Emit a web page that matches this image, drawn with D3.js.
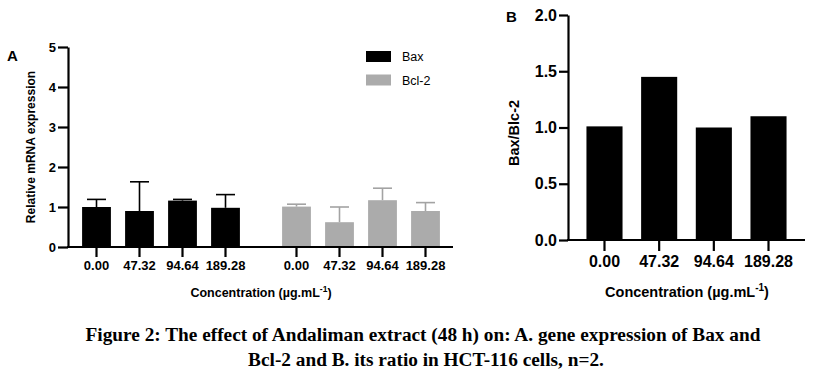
<!DOCTYPE html>
<html>
<head>
<meta charset="utf-8">
<script src="https://cdn.jsdelivr.net/npm/d3@7"></script>
<style>
  body { margin: 0; background: #fff; }
  svg { display: block; }
</style>
</head>
<body>
<svg id="chart" width="814" height="381"></svg>
<script>
// chart data
var concentrations = ["0.00", "47.32", "94.64", "189.28"];
var genes = ["Bax", "Bcl-2"];
var baxMean = [1.00, 0.90, 1.16, 0.98];
var baxSd = [0.19, 0.73, 0.03, 0.33];
var bcl2Mean = [1.01, 0.62, 1.17, 0.90];
var bcl2Sd = [0.06, 0.38, 0.30, 0.21];
var ratio = [1.01, 1.45, 1.00, 1.10];
var yTicksA = [0, 1, 2, 3, 4, 5];
var yTicksB = [0, 0.5, 1.0, 1.5, 2.0];

var geneColor = { "Bax": "#000000", "Bcl-2": "#ababab" };
var errColor = { "Bax": "#000000", "Bcl-2": "#a3a3a3" };
var sans = "'Liberation Sans', Arial, sans-serif";

var svg = d3.select("#chart");

function styleAxis(g, size) {
  g.attr("font-family", sans).attr("font-size", size).attr("font-weight", "bold");
  g.selectAll("line").attr("stroke", "#000").attr("stroke-width", 2.2);
  g.selectAll("path").attr("stroke", "#000").attr("stroke-width", 2.2);
  g.selectAll("text").attr("fill", "#000");
}

// ---------- panel A ----------
var yA = d3.scaleLinear().domain([0, 5]).range([247, 47]);
var xGroup = d3.scaleBand().domain(genes).range([75, 447]).paddingInner(0.14);
var xInner = d3.scaleBand().domain(concentrations).range([0, xGroup.bandwidth()])
  .paddingInner(0.33).paddingOuter(0.165);

var dataA = [];
concentrations.forEach(function(c, i) {
  dataA.push({ gene: "Bax", conc: c, mean: baxMean[i], sd: baxSd[i] });
  dataA.push({ gene: "Bcl-2", conc: c, mean: bcl2Mean[i], sd: bcl2Sd[i] });
});

var panelA = svg.append("g");

// error bars (behind bars)
var errA = panelA.selectAll(".err").data(dataA).enter().append("g")
  .attr("transform", function(d) {
    return "translate(" + (xGroup(d.gene) + xInner(d.conc) + xInner.bandwidth() / 2) + ",0)";
  });
errA.append("line")
  .attr("x1", 0).attr("x2", 0)
  .attr("y1", function(d) { return yA(d.mean); })
  .attr("y2", function(d) { return yA(d.mean + d.sd); })
  .attr("stroke", function(d) { return errColor[d.gene]; })
  .attr("stroke-width", 1.6);
errA.append("line")
  .attr("x1", -9.5).attr("x2", 9.5)
  .attr("y1", function(d) { return yA(d.mean + d.sd); })
  .attr("y2", function(d) { return yA(d.mean + d.sd); })
  .attr("stroke", function(d) { return errColor[d.gene]; })
  .attr("stroke-width", 1.6);

panelA.selectAll(".bar").data(dataA).enter().append("rect")
  .attr("x", function(d) { return xGroup(d.gene) + xInner(d.conc); })
  .attr("y", function(d) { return yA(d.mean); })
  .attr("width", xInner.bandwidth())
  .attr("height", function(d) { return yA(0) - yA(d.mean); })
  .attr("fill", function(d) { return geneColor[d.gene]; });

// axes
var yAxisA = panelA.append("g").attr("transform", "translate(68,0)")
  .call(d3.axisLeft(yA).tickValues(yTicksA).tickFormat(d3.format("d")).tickSize(10).tickPadding(2).tickSizeOuter(0));
styleAxis(yAxisA, 13);

panelA.append("line")
  .attr("x1", 67).attr("x2", 453)
  .attr("y1", yA(0)).attr("y2", yA(0))
  .attr("stroke", "#000").attr("stroke-width", 2.2);

genes.forEach(function(g) {
  var ax = panelA.append("g").attr("transform", "translate(" + xGroup(g) + "," + yA(0) + ")")
    .call(d3.axisBottom(xInner).tickSize(10).tickPadding(4));
  ax.select(".domain").remove();
  styleAxis(ax, 13);
});

panelA.append("text")
  .attr("transform", "translate(35,147) rotate(-90)")
  .attr("text-anchor", "middle")
  .attr("font-family", sans).attr("font-size", 12).attr("font-weight", "bold")
  .text("Relative mRNA expression");

var titleA = panelA.append("text")
  .attr("x", 261).attr("y", 297)
  .attr("text-anchor", "middle")
  .attr("font-family", sans).attr("font-size", 12.5).attr("font-weight", "bold");
titleA.append("tspan").text("Concentration (µg.mL");
titleA.append("tspan").attr("font-size", 8.5).attr("dy", -5).text("-1");
titleA.append("tspan").attr("dy", 5).text(")");

panelA.append("text")
  .attr("x", 7).attr("y", 61)
  .attr("font-family", sans).attr("font-size", 15).attr("font-weight", "bold")
  .text("A");

// legend
var legend = panelA.selectAll(".leg").data(genes).enter().append("g")
  .attr("transform", function(d, i) { return "translate(366," + (51 + i * 23.5) + ")"; });
legend.append("rect")
  .attr("width", 25).attr("height", 11)
  .attr("fill", function(d) { return geneColor[d]; });
legend.append("text")
  .attr("x", 36).attr("y", 10)
  .attr("font-family", sans).attr("font-size", 12.5)
  .text(function(d) { return d; });

// ---------- panel B ----------
var yB = d3.scaleLinear().domain([0, 2]).range([240, 15]);
var xB = d3.scaleBand().domain(concentrations).range([568, 805])
  .paddingInner(0.34).paddingOuter(0.3375);

var panelB = svg.append("g");

panelB.selectAll(".bar").data(ratio).enter().append("rect")
  .attr("x", function(d, i) { return xB(concentrations[i]); })
  .attr("y", function(d) { return yB(d); })
  .attr("width", xB.bandwidth())
  .attr("height", function(d) { return yB(0) - yB(d); })
  .attr("fill", "#000");

var yAxisB = panelB.append("g").attr("transform", "translate(568,0)")
  .call(d3.axisLeft(yB).tickValues(yTicksB).tickFormat(d3.format(".1f")).tickSize(9).tickPadding(2).tickSizeOuter(0));
styleAxis(yAxisB, 16);

var xAxisB = panelB.append("g").attr("transform", "translate(0," + yB(0) + ")")
  .call(d3.axisBottom(xB).tickSize(11).tickPadding(5).tickSizeOuter(0));
styleAxis(xAxisB, 16);
xAxisB.select(".domain").attr("d", "M567,0H805");

panelB.append("text")
  .attr("transform", "translate(519,133) rotate(-90)")
  .attr("text-anchor", "middle")
  .attr("font-family", sans).attr("font-size", 14.5).attr("font-weight", "bold")
  .text("Bax/Blc-2");

var titleB = panelB.append("text")
  .attr("x", 687).attr("y", 297)
  .attr("text-anchor", "middle")
  .attr("font-family", sans).attr("font-size", 14.5).attr("font-weight", "bold");
titleB.append("tspan").text("Concentration (µg.mL");
titleB.append("tspan").attr("font-size", 10).attr("dy", -6).text("-1");
titleB.append("tspan").attr("dy", 6).text(")");

panelB.append("text")
  .attr("x", 506).attr("y", 22)
  .attr("font-family", sans).attr("font-size", 15).attr("font-weight", "bold")
  .text("B");

// ---------- caption ----------
var caption = svg.append("text")
  .attr("text-anchor", "middle")
  .attr("font-family", "'Liberation Serif', 'Times New Roman', serif")
  .attr("font-size", 19.3).attr("font-weight", "bold");
caption.append("tspan").attr("x", 423).attr("y", 341)
  .text("Figure 2: The effect of Andaliman extract (48 h) on: A. gene expression of Bax and");
caption.append("tspan").attr("x", 426).attr("y", 366)
  .text("Bcl-2 and B. its ratio in HCT-116 cells, n=2.");
</script>
</body>
</html>
